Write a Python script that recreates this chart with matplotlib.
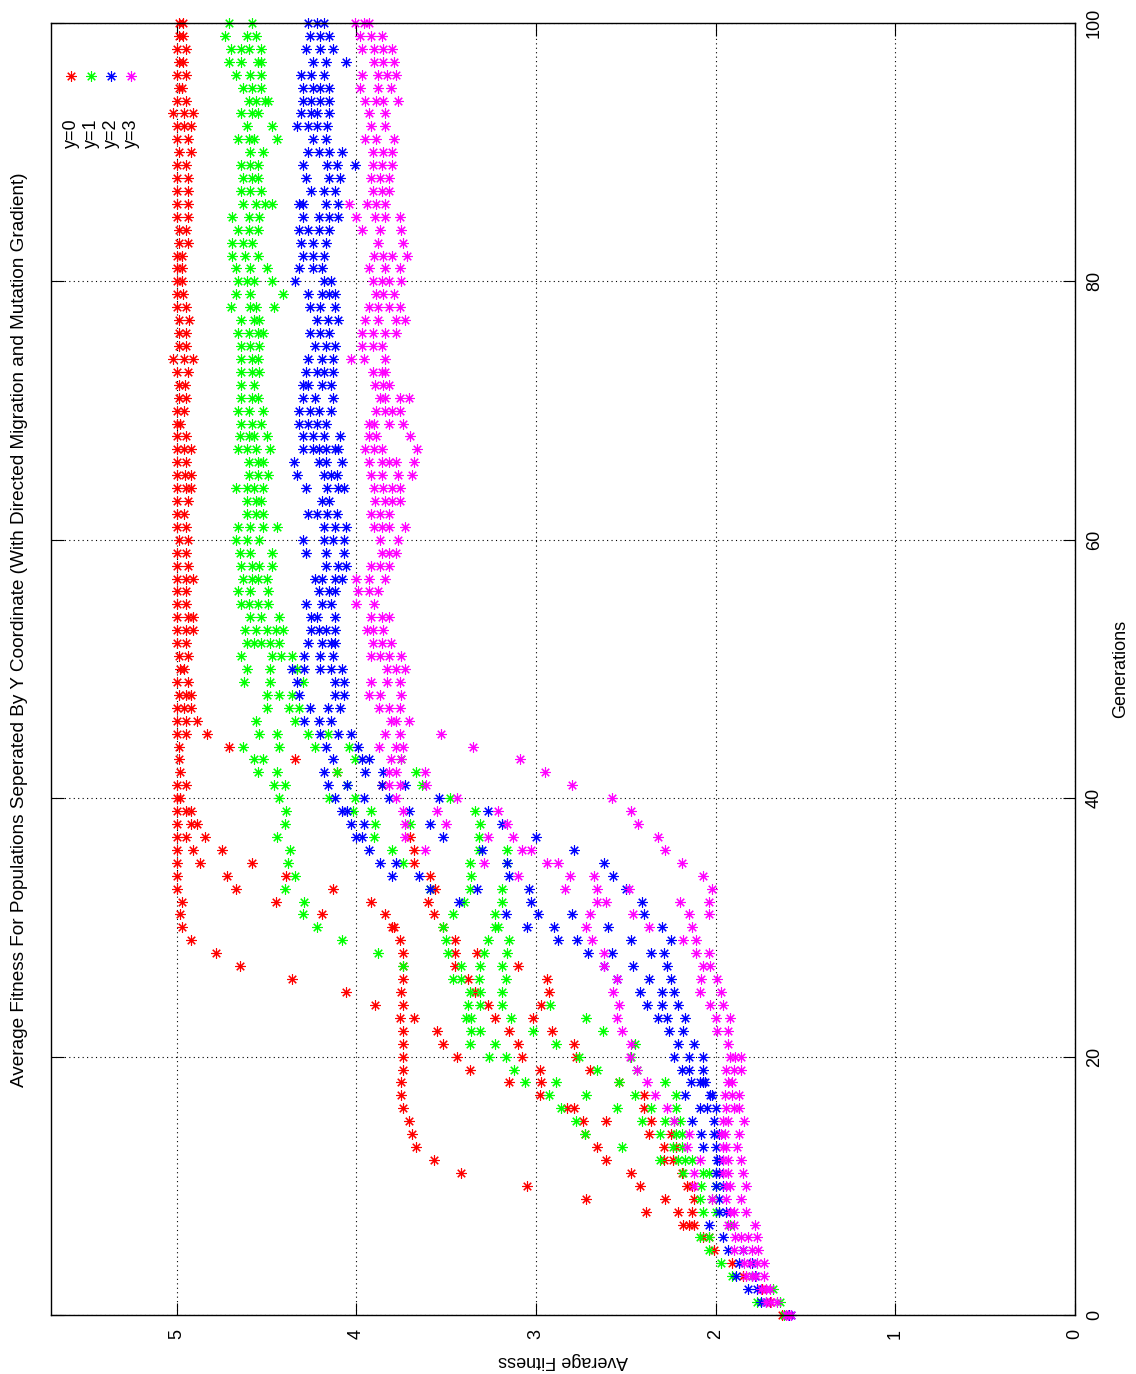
import matplotlib
matplotlib.use("Agg")
import matplotlib.pyplot as plt

# Average fitness per generation, several populations per y coordinate.
# fit_yN[g] holds the population averages seen at generation g.
fit_y0 = [
    [1.63, 1.60], [1.70], [1.74], [1.85], [1.91],
    [2.01], [2.07, 2.035], [2.18, 2.15, 2.12], [2.39, 2.21, 2.13], [2.72, 2.28, 2.12],
    [3.05, 2.42, 2.16, 2.13], [3.42, 2.47, 2.19], [3.57, 2.61, 2.29, 2.24], [3.67, 2.66, 2.29, 2.22], [3.69, 2.73, 2.37, 2.25],
    [3.71, 2.74, 2.61, 2.36], [3.74, 2.83, 2.79, 2.40], [3.75, 2.98, 2.40], [3.75, 3.15, 2.97, 2.54], [3.74, 3.37, 2.98, 2.70],
    [3.74, 3.44, 3.08, 2.78], [3.74, 3.52, 3.10, 2.79], [3.74, 3.55, 3.15, 2.91], [3.76, 3.68, 3.23, 3.015], [3.895, 3.74, 3.27, 2.97],
    [4.06, 3.75, 3.34, 2.93], [4.36, 3.74, 3.38, 2.94], [4.65, 3.74, 3.45, 3.10], [4.78, 3.74, 3.45, 3.33], [4.92, 3.76, 3.45],
    [4.97, 3.80, 3.79, 3.52], [4.98, 4.19, 3.84, 3.57], [4.97, 4.45, 3.92, 3.60], [5.0, 4.67, 4.13, 3.56], [5.0, 4.72, 4.39, 3.59],
    [5.0, 4.87, 4.58, 3.68], [5.0, 4.91, 4.75, 3.68], [5.0, 4.95, 4.84, 3.70], [5.0, 4.92, 4.89], [5.0, 4.95, 4.92],
    [5.0, 4.98], [5.0, 4.95, 3.86], [4.98, 4.11], [4.99, 4.34], [4.99, 4.71],
    [5.0, 4.95, 4.83], [5.0, 4.95, 4.89], [5.0, 4.96, 4.92], [4.99, 4.95, 4.92], [5.0, 4.94],
    [4.98, 4.96], [4.99, 4.94], [5.0, 4.95], [5.0, 4.95, 4.91], [5.0, 4.94, 4.91],
    [5.0, 4.95], [5.0, 4.95], [5.0, 4.95, 4.91], [5.0, 4.94], [5.0, 4.95],
    [4.99, 4.94], [5.0, 4.95], [5.0, 4.96], [5.0, 4.94], [5.0, 4.95, 4.92],
    [5.0, 4.955, 4.92], [5.0, 4.95], [5.0, 4.96, 4.92], [5.0, 4.95], [5.0, 4.98],
    [5.0, 4.96], [4.99, 4.95], [4.99, 4.955], [5.0, 4.94], [5.02, 4.96, 4.91],
    [4.99, 4.95], [4.99, 4.95], [4.99, 4.93], [5.0, 4.95], [5.0, 4.965],
    [5.0, 4.97], [5.0, 4.97], [5.0, 4.97], [4.99, 4.94], [4.99, 4.95],
    [5.0, 4.94], [5.0, 4.94], [5.0, 4.94], [5.0, 4.94], [5.0, 4.95],
    [4.99, 4.92], [5.0, 4.94], [5.0, 4.96, 4.92], [5.02, 4.96, 4.91], [5.0, 4.95],
    [4.99, 4.97], [5.0, 4.95], [4.99, 4.965], [5.0, 4.95], [4.99, 4.965],
    [4.99, 4.965],
]

fit_y1 = [
    [1.62], [1.77, 1.64], [1.68], [1.91, 1.80], [1.97],
    [2.035], [2.09, 2.04], [1.92], [2.07, 2.0], [2.09, 2.02],
    [2.08, 2.0], [2.18, 2.07, 2.04], [2.31, 2.21, 2.17, 2.13], [2.52, 2.24, 2.19], [2.73, 2.31, 2.22, 2.19],
    [2.78, 2.41, 2.28, 2.23, 2.20], [2.86, 2.55, 2.36, 2.22], [2.93, 2.72, 2.45, 2.22], [3.06, 2.89, 2.54, 2.28], [3.12, 2.66, 2.44],
    [3.26, 3.17, 2.76, 2.47], [3.37, 3.23, 2.89, 2.45], [3.36, 3.31, 3.015, 2.63], [3.39, 3.36, 3.14, 2.72], [3.38, 3.31, 3.19, 2.92],
    [3.37, 3.31, 3.19], [3.46, 3.42, 3.32, 3.17], [3.74, 3.42, 3.31, 3.19], [3.88, 3.49, 3.29, 3.16], [4.08, 3.50, 3.27, 3.15],
    [4.22, 3.52, 3.23, 3.21], [4.30, 3.46, 3.23], [4.29, 3.40, 3.19], [4.40, 3.59, 3.37, 3.19], [4.34, 3.36],
    [4.38, 3.74, 3.37, 3.16], [4.37, 3.80, 3.32, 3.16], [4.44, 3.90, 3.32], [4.40, 3.895, 3.70, 3.31], [4.39, 4.02, 3.92, 3.34],
    [4.43, 4.15, 4.01, 3.48], [4.46, 4.40, 4.05, 3.635], [4.55, 4.44, 4.11, 3.67], [4.57, 4.52, 4.01, 3.75], [4.63, 4.43, 4.23, 4.04],
    [4.54, 4.44, 4.27, 4.16], [4.56, 4.34], [4.50, 4.375, 4.32], [4.50, 4.43, 4.36], [4.625, 4.48, 4.30],
    [4.61, 4.48, 4.33], [4.64, 4.47, 4.42, 4.36], [4.61, 4.57, 4.53, 4.48, 4.43], [4.62, 4.56, 4.50, 4.45, 4.41], [4.59, 4.53, 4.43],
    [4.64, 4.60, 4.55, 4.49], [4.66, 4.59, 4.49], [4.63, 4.58, 4.55, 4.50], [4.64, 4.58, 4.54, 4.47], [4.65, 4.59, 4.47],
    [4.67, 4.61, 4.54], [4.66, 4.59, 4.52, 4.44], [4.61, 4.56, 4.52], [4.61, 4.56, 4.53], [4.67, 4.61, 4.57, 4.52],
    [4.60, 4.55, 4.49], [4.60, 4.55, 4.52], [4.66, 4.61, 4.56, 4.48], [4.65, 4.60, 4.57, 4.50], [4.64, 4.58, 4.53],
    [4.66, 4.60, 4.52], [4.64, 4.58, 4.55], [4.64, 4.57], [4.64, 4.58, 4.54], [4.64, 4.58, 4.55],
    [4.64, 4.59, 4.54], [4.66, 4.60, 4.55, 4.52], [4.64, 4.57, 4.54], [4.70, 4.59, 4.56, 4.46], [4.67, 4.59, 4.41],
    [4.66, 4.61, 4.57, 4.47], [4.67, 4.59, 4.50], [4.69, 4.62, 4.55], [4.69, 4.63, 4.58], [4.66, 4.60, 4.55],
    [4.69, 4.60, 4.54], [4.63, 4.56, 4.51, 4.47], [4.64, 4.59, 4.53], [4.63, 4.58, 4.55], [4.64, 4.59, 4.55],
    [4.59, 4.52], [4.66, 4.60, 4.57, 4.44], [4.61, 4.47], [4.64, 4.58, 4.55], [4.60, 4.56, 4.51, 4.49],
    [4.63, 4.58, 4.53], [4.67, 4.59, 4.53], [4.71, 4.64, 4.55, 4.53], [4.70, 4.64, 4.60, 4.53], [4.73, 4.61, 4.56],
    [4.71, 4.58],
]

fit_y2 = [
    [1.59, 1.58], [1.75, 1.72], [1.82, 1.77], [1.886, 1.78], [1.87, 1.80],
    [1.93, 1.85], [1.96], [2.035], [1.98, 1.94], [1.98],
    [2.0, 1.96], [2.0, 1.98], [1.99, 1.98], [2.07, 2.0], [2.08, 2.01, 1.98],
    [2.13, 2.01], [2.09, 2.05, 2.0], [2.17, 2.03, 2.02], [2.14, 2.09, 2.07, 2.06], [2.19, 2.15, 2.07],
    [2.23, 2.15, 2.07], [2.21, 2.12], [2.26, 2.18], [2.32, 2.27, 2.17], [2.38, 2.30, 2.21],
    [2.42, 2.30, 2.23], [2.55, 2.37, 2.25], [2.62, 2.46, 2.27], [2.71, 2.58, 2.36, 2.29], [2.88, 2.77, 2.47, 2.25],
    [3.05, 2.90, 2.60, 2.30], [3.17, 2.99, 2.80, 2.40], [3.43, 3.03, 2.41], [3.59, 3.33, 3.04, 2.50], [3.80, 3.65, 3.15, 2.57],
    [3.87, 3.78, 3.16, 2.62], [3.93, 3.30, 2.79], [4.0, 3.97, 3.52, 3.0], [4.03, 3.96, 3.59, 3.19], [4.08, 4.05, 3.71, 3.27],
    [4.12, 3.96, 3.82, 3.54], [4.16, 4.05, 3.86, 3.73], [4.18, 3.95, 3.85], [4.13, 3.97, 3.93], [4.17, 3.99],
    [4.20, 4.10, 4.03], [4.29, 4.21, 4.14], [4.26, 4.16, 4.09], [4.32, 4.12, 4.07], [4.33, 4.12, 4.07],
    [4.36, 4.29, 4.20, 4.14, 4.08], [4.29, 4.20, 4.13], [4.27, 4.19, 4.14, 4.12], [4.25, 4.21, 4.17, 4.12], [4.25, 4.22, 4.12],
    [4.28, 4.19, 4.14], [4.21, 4.15, 4.12], [4.23, 4.19, 4.12, 4.08], [4.17, 4.10, 4.06], [4.28, 4.17, 4.07],
    [4.295, 4.18, 4.13, 4.07], [4.18, 4.12, 4.06], [4.27, 4.22, 4.165, 4.11], [4.19, 4.15], [4.28, 4.165, 4.10, 4.07],
    [4.33, 4.18, 4.14, 4.11], [4.35, 4.21, 4.17, 4.08], [4.295, 4.24, 4.21, 4.17, 4.12, 4.10], [4.295, 4.24, 4.18, 4.09], [4.32, 4.27, 4.22, 4.17],
    [4.32, 4.26, 4.21, 4.14], [4.30, 4.23, 4.13], [4.30, 4.27, 4.19, 4.14], [4.28, 4.22, 4.18, 4.13], [4.27, 4.19, 4.13],
    [4.23, 4.17, 4.12], [4.26, 4.20, 4.15], [4.22, 4.16, 4.10], [4.26, 4.20, 4.12], [4.27, 4.19, 4.15, 4.12],
    [4.34, 4.18, 4.14], [4.32, 4.24, 4.19], [4.30, 4.24, 4.18], [4.31, 4.24, 4.17], [4.32, 4.27, 4.21, 4.15],
    [4.30, 4.21, 4.155, 4.10], [4.32, 4.295, 4.17, 4.10], [4.25, 4.18, 4.12], [4.28, 4.15, 4.09], [4.295, 4.165, 4.11, 4.01],
    [4.27, 4.21, 4.15, 4.08], [4.24, 4.17], [4.33, 4.27, 4.22, 4.165], [4.31, 4.25, 4.22, 4.15], [4.30, 4.25, 4.20, 4.155],
    [4.295, 4.24, 4.20, 4.15], [4.31, 4.25, 4.18], [4.24, 4.17, 4.06], [4.28, 4.20, 4.13], [4.26, 4.20, 4.15],
    [4.27, 4.22, 4.18],
]

fit_y3 = [
    [1.61, 1.60, 1.58], [1.72, 1.69, 1.66], [1.75, 1.72, 1.70], [1.83, 1.80, 1.775, 1.73], [1.84, 1.81, 1.77, 1.73],
    [1.90, 1.85, 1.80, 1.765], [1.89, 1.86, 1.82, 1.77], [1.93, 1.90, 1.78], [1.92, 1.90, 1.83], [2.02, 1.94, 1.86],
    [2.12, 1.94, 1.92, 1.83], [2.12, 1.96, 1.93, 1.85], [2.09, 1.96, 1.93, 1.86], [2.16, 1.96, 1.94, 1.88], [2.15, 1.97, 1.95, 1.87],
    [2.23, 1.96, 1.93, 1.84], [2.27, 1.94, 1.90, 1.87], [2.34, 1.95, 1.91, 1.87], [2.38, 1.93, 1.91], [2.44, 1.94, 1.90, 1.86],
    [2.475, 1.92, 1.89, 1.86], [2.47, 1.93], [2.52, 1.99, 1.93], [2.55, 2.0, 1.92], [2.54, 2.03, 1.96],
    [2.57, 2.09, 1.97], [2.55, 2.08, 1.99], [2.62, 2.07, 2.03], [2.62, 2.11, 2.04], [2.69, 2.18, 2.11],
    [2.72, 2.37, 2.13], [2.70, 2.46, 2.15, 2.04], [2.66, 2.61, 2.20, 2.04], [2.84, 2.66, 2.48, 2.02], [3.10, 2.81, 2.68, 2.07],
    [3.29, 2.94, 2.88, 2.19], [3.62, 3.08, 3.03, 2.28], [3.73, 3.27, 3.13, 2.32], [3.73, 3.50, 3.16, 2.43], [3.74, 3.55, 3.21, 2.47],
    [3.78, 3.44, 2.58], [3.82, 3.76, 3.61, 2.80], [3.82, 3.78, 3.62, 2.95], [3.81, 3.75, 3.09], [3.875, 3.78, 3.74, 3.35],
    [3.84, 3.76, 3.53], [3.81, 3.78, 3.71], [3.875, 3.82, 3.76], [3.93, 3.87, 3.75], [3.92, 3.83, 3.76],
    [3.83, 3.78, 3.73], [3.92, 3.87, 3.82, 3.75], [3.91, 3.86, 3.81], [3.94, 3.91, 3.85], [3.92, 3.86, 3.82],
    [4.0, 3.90], [3.99, 3.93, 3.88], [4.0, 3.93, 3.84], [3.92, 3.87, 3.82], [3.86, 3.82, 3.78],
    [3.87, 3.77], [3.90, 3.86, 3.82, 3.73], [3.92, 3.87, 3.82], [3.895, 3.84, 3.80, 3.76], [3.90, 3.85, 3.80, 3.76],
    [3.92, 3.86, 3.77, 3.69], [3.93, 3.86, 3.82, 3.78, 3.68], [3.95, 3.90, 3.86, 3.66], [3.93, 3.89, 3.70], [3.93, 3.90, 3.82, 3.74],
    [3.89, 3.84, 3.80, 3.76], [3.87, 3.84, 3.76, 3.71], [3.895, 3.85, 3.82], [3.91, 3.86, 3.84], [4.03, 3.96, 3.84],
    [3.97, 3.91, 3.86], [3.97, 3.91, 3.84, 3.78], [3.95, 3.88, 3.78, 3.73], [3.93, 3.88, 3.82, 3.76], [3.89, 3.85, 3.79],
    [3.91, 3.86, 3.82, 3.75], [3.93, 3.84, 3.76], [3.90, 3.85, 3.80, 3.72], [3.88, 3.74], [3.97, 3.87, 3.75],
    [4.0, 3.895, 3.84, 3.76], [4.04, 3.94, 3.89, 3.84], [3.91, 3.86, 3.82], [3.92, 3.87, 3.82], [3.91, 3.86, 3.80],
    [3.91, 3.85, 3.80], [3.95, 3.89, 3.79], [3.92, 3.84], [3.93, 3.84], [3.95, 3.89, 3.85, 3.77],
    [3.98, 3.88, 3.81], [3.97, 3.88, 3.83, 3.78], [3.90, 3.85, 3.79], [3.97, 3.90, 3.85, 3.80], [3.98, 3.92, 3.86],
    [4.01, 3.96, 3.93],
]

series_labels = ["y=0", "y=1", "y=2", "y=3"]
series_colors = ["#ff0000", "#00ff00", "#0000ff", "#ff00ff"]
fitness_ticks = [0, 1, 2, 3, 4, 5]
generation_ticks = [0, 20, 40, 60, 80, 100]

title = ("Average Fitness For Populations Seperated By Y Coordinate "
         "(With Directed Migration and Mutation Gradient)")

plt.rcParams['font.family'] = ['Liberation Sans', 'DejaVu Sans']
plt.rcParams['font.size'] = 13

# gnuplot asterisk (plus and cross together)
star = (8, 2, 0)

# the gnuplot page is turned a quarter turn: generations run upwards,
# fitness runs from right to left
fig = plt.figure(figsize=(11.36, 13.74), dpi=100)
ax = fig.add_axes([51 / 1136, 59 / 1374, 1024 / 1136, 1292 / 1374])

for data, label, color in zip([fit_y0, fit_y1, fit_y2, fit_y3], series_labels, series_colors):
    gens = []
    vals = []
    for g, row in enumerate(data):
        for v in row:
            gens.append(g)
            vals.append(v)
    ax.plot(vals, gens, linestyle='none', marker=star, markersize=7.5,
            markeredgewidth=0.8, color=color, label=label, clip_on=False)

ax.set_xlim(5.7, 0)
ax.set_ylim(0, 100)
ax.set_xticks(fitness_ticks)
ax.set_yticks(generation_ticks)

ax.grid(True, color='black', linestyle=(0, (1, 3)), linewidth=0.8)
ax.set_axisbelow(True)
for sp in ax.spines.values():
    sp.set_linewidth(1.0)

ax.tick_params(direction='in', length=9, width=0.8, top=True, bottom=True,
               left=True, right=True, labelleft=False, labelright=True,
               labelbottom=True, labelsize=13)
for lab in ax.get_xticklabels():
    lab.set_rotation(90)
    lab.set_ha('center')
    lab.set_va('top')
ax.tick_params(axis='x', pad=10)
for lab in ax.get_yticklabels():
    lab.set_rotation(90)
    lab.set_va('center')
    lab.set_ha('left')
ax.tick_params(axis='y', pad=8)

# axis labels and title, turned with the page
fig.text(563 / 1136, 1 - 1360 / 1374, "Average Fitness", rotation=180,
         ha='center', va='center', fontsize=13)
fig.text(1121 / 1136, 1 - 669 / 1374, "Generations", rotation=90,
         ha='center', va='center', fontsize=13)
fig.text(20 / 1136, 1 - 630 / 1374, title, rotation=90,
         ha='center', va='center', fontsize=13.7)

# key in the upper left corner, samples above the rotated names
key_x = [71, 91, 111, 131]
for kx, label, color in zip(key_x, series_labels, series_colors):
    fx = (kx - 51) / 1024
    ax.plot([fx], [(1315 - 76) / 1292], transform=ax.transAxes, linestyle='none',
            marker=star, markersize=7.5, markeredgewidth=0.8, color=color, clip_on=False)
    ax.text(fx, (1315 - 118) / 1292, label, transform=ax.transAxes, rotation=90,
            ha='center', va='top', fontsize=13)

fig.savefig('out.png', dpi=100)
